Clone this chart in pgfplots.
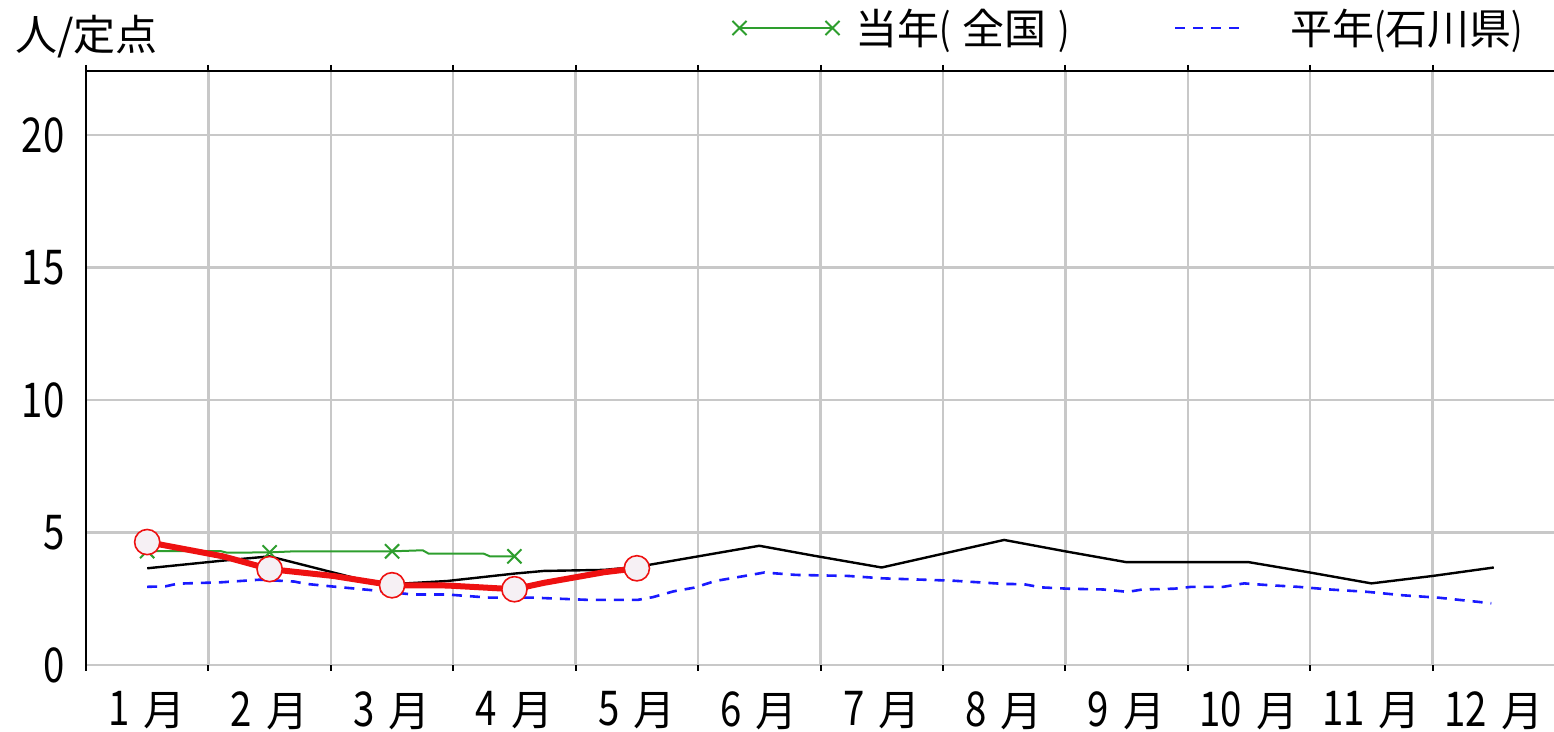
\documentclass[border=0pt]{standalone}
\usepackage{fontspec}
\usepackage{pgfplots}
\pgfplotsset{compat=1.18}
\newfontfamily\jp{Noto Sans CJK JP}
\newfontfamily\jpdig[FakeStretch=0.8]{Noto Sans CJK JP}
\newcommand{\jpf}{\jp\fontsize{21}{25}\selectfont}
\newcommand{\jpd}{\jpdig\fontsize{24}{28}\selectfont}
\newcommand{\jpp}{\jpdig\fontsize{21}{25}\selectfont}
\newcommand{\mlab}[1]{{\jpd #1}\hspace{7pt}{\jpf 月}}
\definecolor{gridgray}{HTML}{C8C8C8}
\definecolor{cgreen}{HTML}{2E9E2E}
\definecolor{cblue}{HTML}{1A1AFF}
\definecolor{cred}{HTML}{EE1111}
\definecolor{cfill}{HTML}{F6F0F4}
\begin{document}
\begin{tikzpicture}
\begin{axis}[name=ax, scale only axis, width=734.5pt, height=297pt,
  xmin=0.5, xmax=12.5, ymin=0, ymax=22.42,
  axis line style={draw=none},
  xtick={1,...,12},
  xticklabels={\mlab{1},\mlab{2},\mlab{3},\mlab{4},\mlab{5},\mlab{6},\mlab{7},\mlab{8},\mlab{9},\mlab{10},\mlab{11},\mlab{12}},
  minor xtick={0.5,1.5,...,11.5},
  xminorgrids, ymajorgrids,
  ytick={0,5,10,15,20},
  major tick length=0pt, minor tick length=3pt, tick align=outside,
  minor x tick style={black, line width=1pt},
  major grid style={gridgray, line width=1.2pt},
  minor grid style={gridgray, line width=1.2pt},
  /pgf/number format/assume math mode=true,
  yticklabel style={font=\jpd, inner sep=0pt, anchor=east, xshift=-10.5pt},
  xticklabel style={inner sep=0pt, anchor=north, yshift=-13pt},
  legend columns=2,
  legend cell align=left,
  legend style={draw=none, fill=none, at={(axis description cs:0.4398,1.0724)}, anchor=west,
    inner sep=0pt, nodes={inner sep=0pt}, font=\jpf, column sep=0pt},
]
\addlegendimage{cgreen, line width=1pt, legend image code/.code={
  \path[draw=none] (0pt,0pt) -- (58pt,0pt);
  \draw[mark=x, mark size=5pt] plot coordinates {(0pt,0pt) (46.5pt,0pt)};}}
\addlegendentry{当年{\jpp(}\hspace{6pt}全国\hspace{6pt}{\jpp)}}
\addlegendimage{cblue, line width=1.3pt, legend image code/.code={
  \path[draw=none] (-52.5pt,0pt) -- (57.5pt,0pt);
  \draw[dash pattern=on 5pt off 4pt] (0pt,0pt) -- (35pt,0pt);}}
\addlegendentry{平年{\jpp(}石川県{\jpp)}}

% 平年(石川県)
\addplot[forget plot, cblue, line width=1.3pt, dash pattern=on 5pt off 4pt] coordinates {
(1,2.95) (1.15,2.97) (1.25,3.07) (1.6,3.12) (1.92,3.22) (2.2,3.15) (2.3,3.06) (2.52,2.96)
(2.82,2.83) (3.17,2.66) (3.45,2.66) (3.8,2.54) (4.16,2.54) (4.59,2.46) (5.01,2.46) (5.13,2.56)
(5.3,2.78) (5.47,2.92) (5.64,3.17) (5.93,3.4) (6.04,3.49) (6.3,3.4) (6.73,3.36) (7.01,3.27)
(7.59,3.18) (8.0,3.06) (8.16,3.05) (8.3,2.93) (8.52,2.88) (8.81,2.85) (9.01,2.76) (9.13,2.85)
(9.39,2.88) (9.53,2.95) (9.79,2.95) (9.96,3.08) (10.17,3.01) (10.4,2.95) (10.66,2.85)
(10.97,2.76) (11.26,2.63) (11.55,2.54) (11.98,2.33)};
% 前年
\addplot[forget plot, black, line width=1.2pt] coordinates {
(1,3.65) (1.62,3.94) (2,4.1) (2.52,3.49) (2.82,3.14) (3,3.05) (3.45,3.17) (4,3.45) (4.24,3.55)
(4.73,3.59) (5,3.7) (5.5,4.1) (6,4.5) (6.44,4.13) (7,3.68) (7.5,4.2) (8,4.72) (8.5,4.29)
(9,3.88) (10,3.88) (10.5,3.49) (11,3.08) (11.5,3.36) (12,3.68)};
% 当年(全国)
\addplot[forget plot, cgreen, line width=1pt] coordinates {
(1,4.3) (1.6,4.3) (1.65,4.24) (2,4.25) (2.2,4.29) (3,4.29) (3.25,4.33) (3.3,4.2) (3.75,4.2) (3.8,4.1) (4,4.1)};
\addplot[forget plot, cgreen, only marks, mark=x, mark size=5pt, line width=1pt] coordinates {
(1,4.3) (2,4.25) (3,4.29) (4,4.1)};
% 当年(石川県)
\addplot[forget plot, cred, line width=3pt] coordinates {
(1,4.64) (1.62,4.1) (2,3.62) (2.52,3.36) (3,3.01) (3.45,3.0) (4,2.86) (4.24,3.1) (4.73,3.5) (5,3.65)};
\addplot[forget plot, only marks, mark=*, mark size=6.3pt, mark options={draw=cred, fill=cfill, line width=0.8pt}] coordinates {
(1,4.64) (2,3.62) (3,3.01) (4,2.86) (5,3.65)};
\end{axis}
\draw[black, line width=1.3pt] (ax.south west) -- (ax.north west) -- (ax.north east);
\node[anchor=base west, inner sep=0pt, font=\jpf] at ([xshift=-35.5pt,yshift=10pt]ax.north west) {人/定点};
\pgfresetboundingbox
\path[use as bounding box] ([xshift=-43pt,yshift=-33.5pt]ax.south west) rectangle ([xshift=-0.5pt,yshift=35.5pt]ax.north east);
\end{tikzpicture}
\end{document}
